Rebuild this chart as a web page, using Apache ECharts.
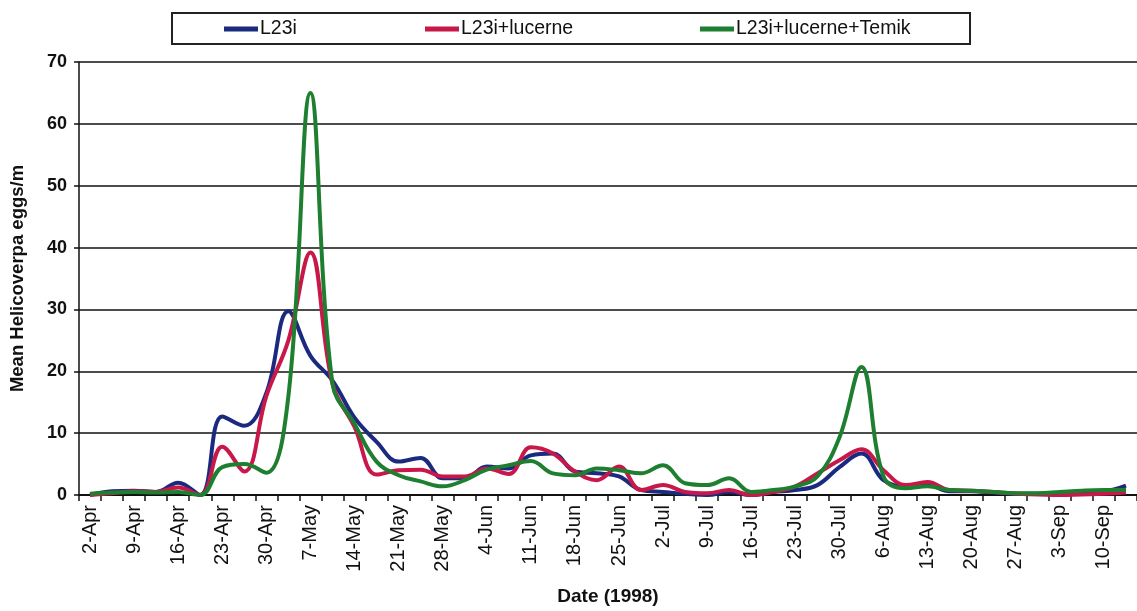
<!DOCTYPE html>
<html>
<head>
<meta charset="utf-8">
<script src="https://cdn.jsdelivr.net/npm/echarts@6/dist/echarts.min.js"></script>
<style>
  html, body { margin: 0; padding: 0; background: #ffffff; }
  #chart { width: 1137px; height: 611px; }
</style>
</head>
<body>
<div id="chart"></div>
<script>
// Sampling dates (twice weekly, Thursday and Monday), 1998
const sampleDates = [
  '2-Apr', '6-Apr', '9-Apr', '13-Apr', '16-Apr', '20-Apr', '23-Apr', '27-Apr',
  '30-Apr', '4-May', '7-May', '11-May', '14-May', '18-May', '21-May', '25-May',
  '28-May', '1-Jun', '4-Jun', '8-Jun', '11-Jun', '15-Jun', '18-Jun', '22-Jun',
  '25-Jun', '29-Jun', '2-Jul', '6-Jul', '9-Jul', '13-Jul', '16-Jul', '20-Jul',
  '23-Jul', '27-Jul', '30-Jul', '3-Aug', '6-Aug', '10-Aug', '13-Aug', '17-Aug',
  '20-Aug', '24-Aug', '27-Aug', '31-Aug', '3-Sep', '7-Sep', '10-Sep', '14-Sep'
];

// Mean Helicoverpa eggs per metre of row
const l23i = [
  0, 0.6, 0.7, 0.5, 2.0, 0, 12.7, 11.2,
  16.5, 29.7, 22.5, 18.5, 12.5, 8.6, 5.4, 6.0,
  2.7, 2.7, 4.6, 4.3, 6.4, 6.7, 3.8, 3.5,
  3.0, 0.8, 0.5, 0.2, 0, 0.5, 0, 0.5,
  0.8, 1.6, 4.5, 6.7, 2.4, 1.4, 1.6, 0.6,
  0.6, 0.4, 0.2, 0.2, 0.3, 0.5, 0.6, 1.5
];
const l23iLucerne = [
  0, 0.3, 0.6, 0.5, 1.2, 0, 7.8, 3.8,
  16, 25, 39.2, 18, 11, 3.3, 4.0, 4.1,
  3.0, 3.0, 4.3, 3.4, 7.7, 6.7, 3.8, 2.4,
  4.6, 0.8, 1.6, 0.5, 0.3, 0.8, 0, 0.5,
  1.4, 3.5, 5.6, 7.4, 4.0, 1.6, 2.1, 0.8,
  0.7, 0.5, 0.2, 0.1, 0, 0.1, 0.2, 0.4
];
const l23iLucerneTemik = [
  0.2, 0.4, 0.5, 0.4, 0.5, 0, 4.5, 5.0,
  3.6, 16, 65, 18, 11.5, 5.4, 3.2, 2.2,
  1.4, 2.4, 4.1, 4.8, 5.5, 3.5, 3.2, 4.3,
  4.0, 3.5, 4.8, 1.9, 1.6, 2.7, 0.5, 0.8,
  1.4, 3.0, 9.3, 20.7, 3.0, 1.1, 1.4, 0.8,
  0.7, 0.5, 0.3, 0.3, 0.5, 0.7, 0.8, 0.8
];

const seriesNames = ['L23i', 'L23i+lucerne', 'L23i+lucerne+Temik'];
const seriesColors = ['#1b2a7e', '#c8184a', '#1e7f31'];
const seriesValues = [l23i, l23iLucerne, l23iLucerneTemik];
const legendLefts = [224, 425, 700];

const font = '"Liberation Sans", Arial, sans-serif';

const chart = echarts.init(document.getElementById('chart'), null, { renderer: 'canvas' });

chart.setOption({
  animation: false,
  backgroundColor: '#ffffff',
  // plot area runs slightly past the right edge of the canvas
  grid: { left: 79, top: 62, width: 1067, height: 440, containLabel: false },
  graphic: [{
    type: 'rect',
    shape: { x: 172, y: 13, width: 798, height: 31 },
    style: { fill: 'none', stroke: '#222', lineWidth: 2 },
    silent: true
  }],
  legend: seriesNames.map((name, i) => ({
    data: [name],
    left: legendLefts[i],
    top: 19,
    padding: 0,
    icon: 'rect',
    itemWidth: 34,
    itemHeight: 5,
    itemGap: 0,
    textStyle: { fontFamily: font, fontSize: 19.5, color: '#111', padding: [0, 0, 0, -3] }
  })),
  xAxis: {
    type: 'category',
    data: sampleDates,
    boundaryGap: true,
    name: 'Date (1998)',
    nameLocation: 'middle',
    nameGap: 92,
    nameTextStyle: { fontFamily: font, fontSize: 19, fontWeight: 'bold', color: '#111' },
    axisLine: { show: true, onZero: false, lineStyle: { color: '#111', width: 2 } },
    axisTick: { show: true, interval: 0, length: 6, lineStyle: { color: '#111', width: 1.5 } },
    axisLabel: {
      interval: 1,
      rotate: 90,
      margin: 10,
      fontFamily: font,
      fontSize: 20,
      color: '#111'
    },
    splitLine: { show: false }
  },
  yAxis: {
    type: 'value',
    min: 0,
    max: 70,
    interval: 10,
    name: 'Mean Helicoverpa eggs/m',
    nameLocation: 'middle',
    nameGap: 52,
    nameRotate: 90,
    nameTextStyle: { fontFamily: font, fontSize: 18.5, fontWeight: 'bold', color: '#111' },
    axisLine: { show: true, lineStyle: { color: '#111', width: 1.5 } },
    axisTick: { show: true, length: 5, lineStyle: { color: '#111', width: 1.5 } },
    axisLabel: { margin: 12, fontFamily: font, fontSize: 18, fontWeight: 'bold', color: '#111' },
    splitLine: { show: true, lineStyle: { color: '#111', width: 1.5 } }
  },
  series: seriesNames.map((name, i) => ({
    name: name,
    type: 'line',
    data: seriesValues[i],
    smooth: 0.4,
    symbol: 'none',
    color: seriesColors[i],
    lineStyle: { color: seriesColors[i], width: 4 },
    z: 2 + i
  }))
});
</script>
</body>
</html>
